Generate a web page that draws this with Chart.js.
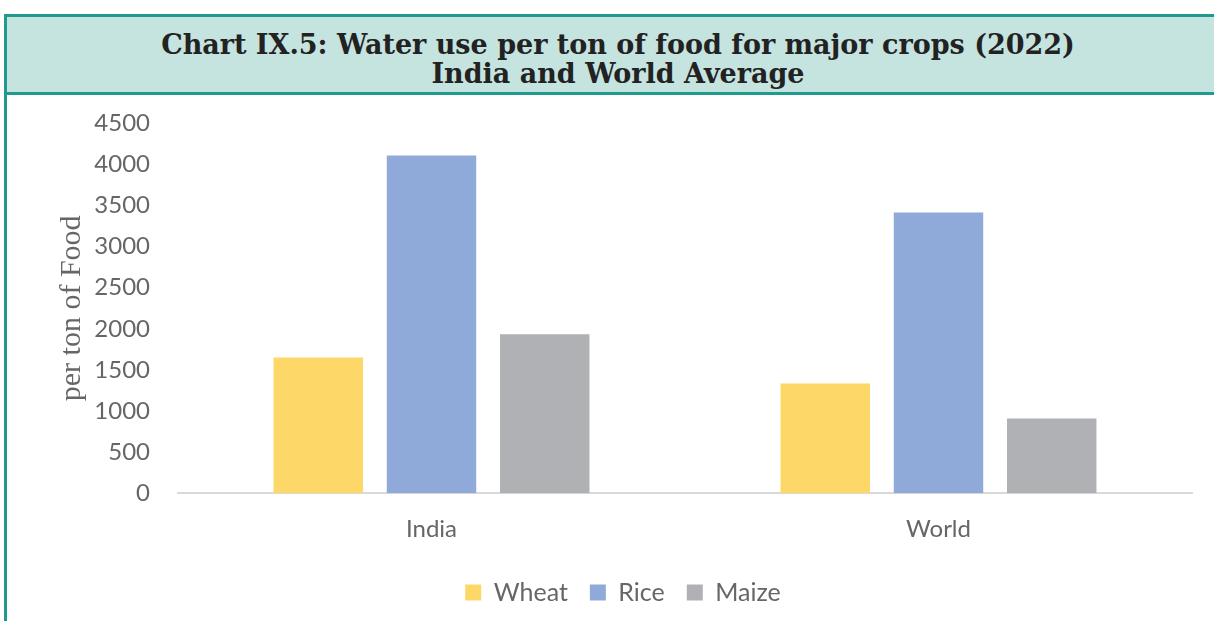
<!DOCTYPE html>
<html>
<head>
<meta charset="utf-8">
<script src="https://cdn.jsdelivr.net/npm/chart.js@4.4.1/dist/chart.umd.min.js"></script>
<style>
  html, body { margin: 0; padding: 0; background: #fff; overflow: hidden; }
  #frame {
    position: absolute; left: 4px; top: 14px; width: 1222px; height: 620px;
    border-left: 3px solid #1f9a8c;
  }
  #title {
    position: absolute; left: 0; top: 0; width: 1222px; height: 81px;
    background: #c5e3df; border-top: 3px solid #1f9a8c; border-bottom: 3px solid #1f9a8c;
    font-family: "DejaVu Serif", serif; font-weight: bold; font-size: 27px;
    color: #222; text-align: center; line-height: 29px; padding-top: 13px; box-sizing: border-box;
  }
  #wrap { position: absolute; left: 8px; top: 89px; width: 1206px; height: 532px; }
</style>
</head>
<body>
<div id="frame">
  <div id="title">Chart IX.5: Water use per ton of food for major crops (2022)<br>India and World Average</div>
</div>
<div id="wrap"><canvas id="mygraph" width="1206" height="532"></canvas></div>
<script>
const categories = ["India", "World"]
const seriesNames = ["Wheat", "Rice", "Maize"]
const wheat = [1650, 1335]
const rice = [4110, 3415]
const maize = [1935, 910]
const yTicks = [0, 500, 1000, 1500, 2000, 2500, 3000, 3500, 4000, 4500]

const colours = ["#fdd868", "#8faad8", "#b0b1b4"]
const tickFont = { family: "Lato, 'Open Sans', sans-serif", size: 24 }

const data = {
  labels: categories,
  datasets: [wheat, rice, maize].map((vals, i) => ({
    label: seriesNames[i],
    data: vals,
    backgroundColor: colours[i],
    barPercentage: 0.79,
    categoryPercentage: 0.67
  }))
}

const config = {
  type: 'bar',
  data,
  options: {
    responsive: false,
    animation: false,
    layout: { padding: { left: 46, right: 22, top: 4, bottom: 6 } },
    plugins: {
      legend: {
        position: 'bottom',
        labels: {
          boxWidth: 16, boxHeight: 16, padding: 22,
          color: '#666', font: { family: "Lato, 'Open Sans', sans-serif", size: 25 }
        }
      },
      tooltip: { enabled: false }
    },
    scales: {
      x: {
        grid: { display: false },
        border: { color: '#d9d9d9', width: 2 },
        ticks: { color: '#666', font: tickFont, padding: 14 }
      },
      y: {
        min: 0, max: 4500,
        afterBuildTicks: s => { s.ticks = yTicks.map(v => ({ value: v })) },
        afterFit: s => { s.width = 124 },
        grid: { display: false },
        border: { display: false },
        ticks: { color: '#666', font: tickFont, padding: 20, callback: v => String(v) },
        title: {
          display: true, text: 'per ton of Food', color: '#666',
          font: { family: "'Liberation Serif', serif", size: 30 }, padding: { top: 0, bottom: 0 }
        }
      }
    }
  }
}

const mygraph = new Chart(document.getElementById('mygraph'), config)
</script>
</body>
</html>
